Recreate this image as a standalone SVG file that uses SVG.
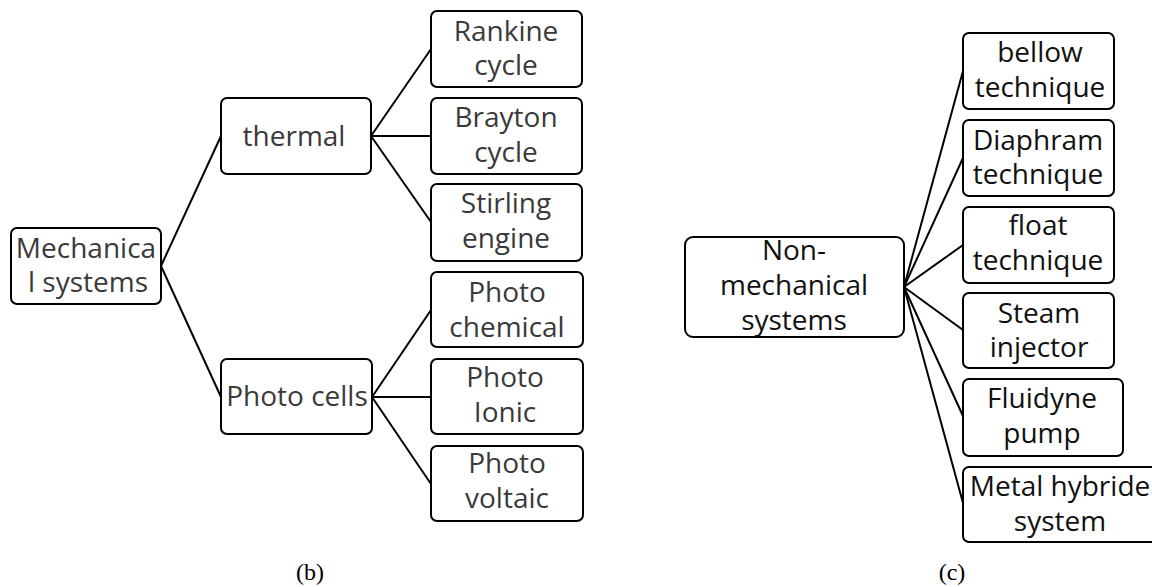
<svg xmlns="http://www.w3.org/2000/svg" width="1152" height="587" viewBox="0 0 1152 587">
<style>
.box{fill:#fff;stroke:#000;stroke-width:2}
.lb{font-family:"Open Sans","Noto Sans",sans-serif;font-size:28px;fill:#3a3a3a;text-anchor:middle}
.lc{font-family:"Open Sans","Noto Sans",sans-serif;font-size:28px;fill:#111;text-anchor:middle}
.cap{font-family:"Liberation Serif",serif;font-size:24px;fill:#000;text-anchor:middle}
.con{stroke:#000;stroke-width:2;fill:none}
</style>
<rect width="1152" height="587" fill="#fff"/>
<g id="connectors">
<line class="con" x1="161" y1="266" x2="221" y2="136"/>
<line class="con" x1="161" y1="266" x2="221" y2="397"/>
<line class="con" x1="371" y1="136" x2="431" y2="49"/>
<line class="con" x1="371" y1="136" x2="431" y2="136"/>
<line class="con" x1="371" y1="136" x2="431" y2="222"/>
<line class="con" x1="372" y1="397" x2="431" y2="310"/>
<line class="con" x1="372" y1="397" x2="431" y2="397"/>
<line class="con" x1="372" y1="397" x2="431" y2="484"/>
<line class="con" x1="904" y1="287" x2="963" y2="71"/>
<line class="con" x1="904" y1="287" x2="963" y2="158"/>
<line class="con" x1="904" y1="287" x2="963" y2="245"/>
<line class="con" x1="904" y1="287" x2="963" y2="330"/>
<line class="con" x1="904" y1="287" x2="963" y2="416"/>
<line class="con" x1="904" y1="287" x2="963" y2="503"/>
</g>
<g id="mechanical">
<rect class="box" x="11" y="228" width="150" height="76" rx="6"/>
<text class="lb" x="86" y="258">Mechanica</text>
<text class="lb" x="88" y="292">l systems</text>
</g>
<g id="thermal">
<rect class="box" x="221" y="98" width="150" height="76" rx="6"/>
<text class="lb" x="294" y="146">thermal</text>
</g>
<g id="photocells">
<rect class="box" x="221" y="359" width="151" height="75" rx="6"/>
<text class="lb" x="297" y="406">Photo cells</text>
</g>
<g id="rankine">
<rect class="box" x="431" y="11" width="151" height="76" rx="6"/>
<text class="lb" x="506" y="41">Rankine</text>
<text class="lb" x="506" y="75">cycle</text>
</g>
<g id="brayton">
<rect class="box" x="431" y="98" width="151" height="76" rx="6"/>
<text class="lb" x="506" y="127">Brayton</text>
<text class="lb" x="506" y="162">cycle</text>
</g>
<g id="stirling">
<rect class="box" x="431" y="184" width="151" height="77" rx="6"/>
<text class="lb" x="506" y="213">Stirling</text>
<text class="lb" x="506" y="248">engine</text>
</g>
<g id="photochemical">
<rect class="box" x="431" y="272" width="152" height="75" rx="6"/>
<text class="lb" x="507" y="302">Photo</text>
<text class="lb" x="507" y="337">chemical</text>
</g>
<g id="photoionic">
<rect class="box" x="431" y="359" width="152" height="75" rx="6"/>
<text class="lb" x="505" y="387">Photo</text>
<text class="lb" x="505" y="422">Ionic</text>
</g>
<g id="photovoltaic">
<rect class="box" x="431" y="446" width="152" height="75" rx="6"/>
<text class="lb" x="507" y="473">Photo</text>
<text class="lb" x="507" y="508">voltaic</text>
</g>
<g id="nonmechanical">
<rect class="box" x="685" y="237" width="219" height="100" rx="8"/>
<text class="lc" x="794" y="260">Non-</text>
<text class="lc" x="794" y="295">mechanical</text>
<text class="lc" x="794" y="330">systems</text>
</g>
<g id="bellow">
<rect class="box" x="963" y="33" width="151" height="76" rx="6"/>
<text class="lc" x="1040" y="62">bellow</text>
<text class="lc" x="1040" y="97">technique</text>
</g>
<g id="diaphram">
<rect class="box" x="963" y="120" width="151" height="76" rx="6"/>
<text class="lc" x="1038" y="150">Diaphram</text>
<text class="lc" x="1038" y="184">technique</text>
</g>
<g id="float">
<rect class="box" x="963" y="207" width="151" height="76" rx="6"/>
<text class="lc" x="1038" y="235">float</text>
<text class="lc" x="1038" y="270">technique</text>
</g>
<g id="steam">
<rect class="box" x="963" y="293" width="151" height="75" rx="6"/>
<text class="lc" x="1039" y="323">Steam</text>
<text class="lc" x="1039" y="357">injector</text>
</g>
<g id="fluidyne">
<rect class="box" x="963" y="379" width="160" height="77" rx="6"/>
<text class="lc" x="1042" y="408">Fluidyne</text>
<text class="lc" x="1042" y="443">pump</text>
</g>
<g id="metalhybride">
<rect class="box" x="963" y="467" width="196" height="75" rx="6"/>
<text class="lc" x="1060" y="496">Metal hybride</text>
<text class="lc" x="1060" y="531">system</text>
</g>
<text class="cap" x="310" y="580">(b)</text>
<text class="cap" x="952" y="580">(c)</text>
</svg>
